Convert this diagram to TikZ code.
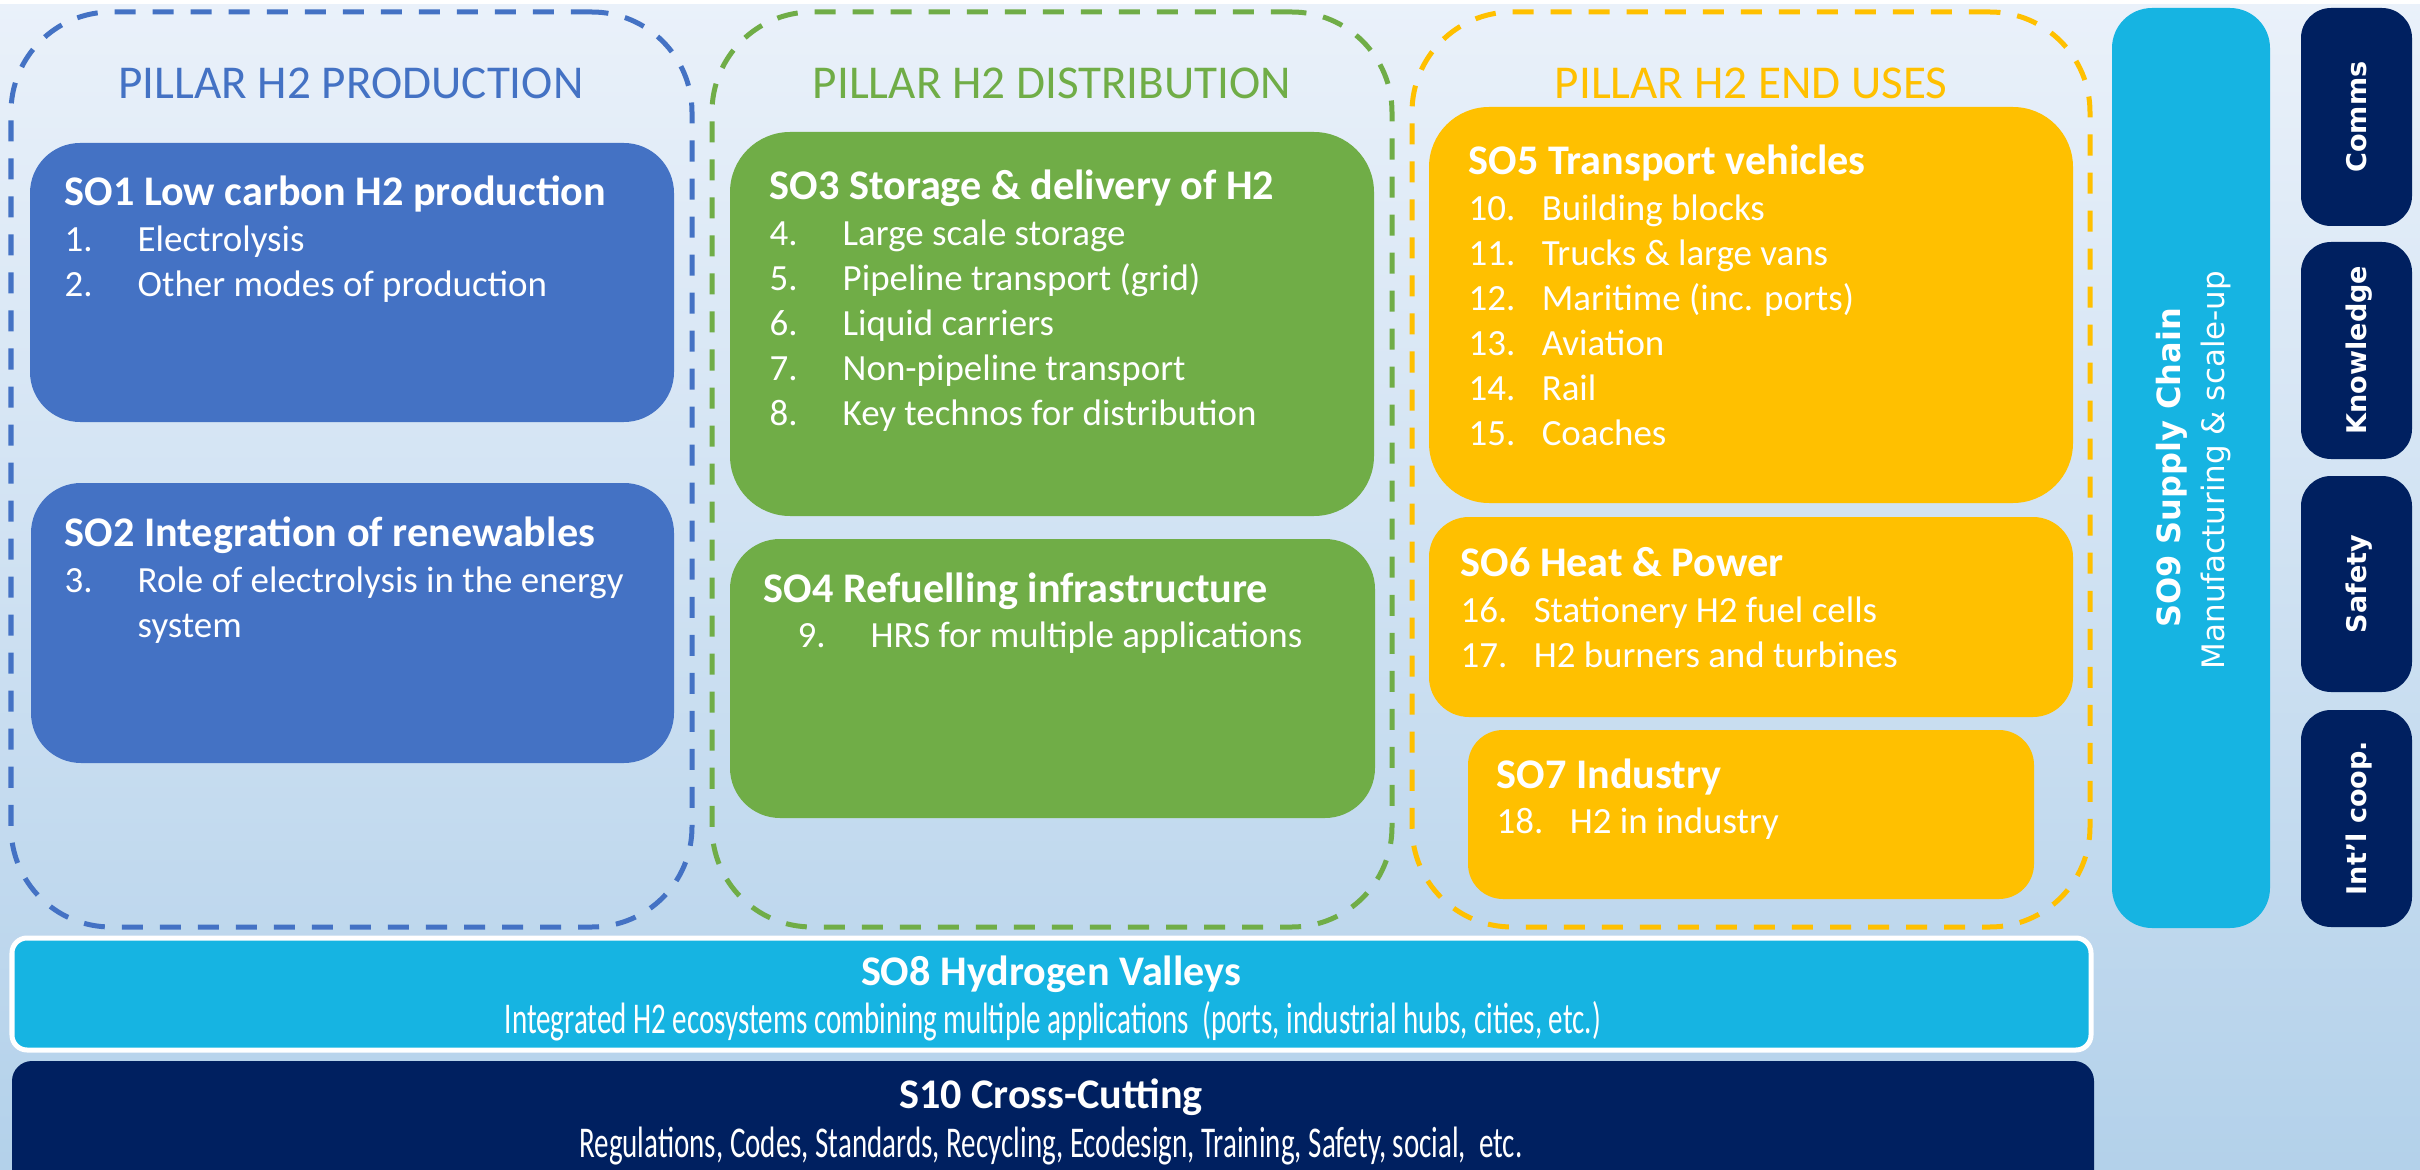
\documentclass[tikz,border=0pt]{standalone}
\usepackage{fontspec}
\setmainfont{Carlito}
\newfontfamily\verdana{DejaVu Sans}
\newfontfamily\agency[FakeStretch=0.66]{Carlito}
\usetikzlibrary{fit}

\definecolor{pblue}{HTML}{4472C4}
\definecolor{pgreen}{HTML}{70AD47}
\definecolor{pgold}{HTML}{FFC000}
\definecolor{sky}{HTML}{16B4E2}
\definecolor{navy}{HTML}{002060}
\definecolor{bgtop}{HTML}{EAF1FA}
\definecolor{bgbot}{HTML}{B3D1EA}

\newcommand{\sohead}[1]{{\bfseries\fontsize{12}{12.8}\selectfont #1}}
\newcommand{\sonum}[2]{\makebox[7.3mm][l]{#1}#2}

\tikzset{
  pillar/.style={draw, line width=0.5mm, dash pattern=on 2.1mm off 1.7mm, rounded corners=10mm, inner sep=0pt},
  pillartitle/.style={anchor=base, font=\fontsize{13.4}{16}\selectfont},
  sobox/.style={fill=#1, inner sep=0pt, rounded corners=5mm},
  sotext/.style={anchor=base west, text=white, inner sep=0pt, font=\fontsize{10.5}{12.8}\selectfont},
  sidebox/.style={fill=navy, inner sep=0pt, rounded corners=3mm},
  sidelabel/.style={rotate=90, anchor=base, text=white, inner sep=0pt, font=\verdana\bfseries\fontsize{7.7}{9}\selectfont},
  bartitle/.style={anchor=base, text=white, inner sep=0pt, font=\bfseries\fontsize{12}{14}\selectfont},
  barnote/.style={anchor=base, text=white, inner sep=0pt, font=\agency\fontsize{12.5}{14}\selectfont},
}

\begin{document}
\begin{tikzpicture}[x=0.01cm, y=-0.01cm]
% page and backdrop
\useasboundingbox (0,0) rectangle (2420,1170);
\clip (0,0) rectangle (2420,1170);
\shade[top color=bgtop, bottom color=bgbot] (0,0) rectangle (2420,1170);
\fill[white] (0,0) rectangle (2420,4);

% the three pillars
\node[pillar, draw=pblue, fit={(11,12) (692,927)}] (prod) {};
\node[pillar, draw=pgreen, fit={(712,12) (1392,927)}] (dist) {};
\node[pillar, draw=pgold, fit={(1412,12) (2090,927)}] (enduse) {};
\node[pillartitle, text=pblue] (prodt) at (351,99) {PILLAR H2 PRODUCTION};
\node[pillartitle, text=pgreen] (distt) at (1052,99) {PILLAR H2 DISTRIBUTION};
\node[pillartitle, text=pgold] (enduset) at (1751,99) {PILLAR H2 END USES};

% production
\node[sobox=pblue, fit={(30,143) (674,422)}] (so1) {};
\node[sotext] (so1t) at (64,206) {\begin{tabular}[t]{@{}l@{}}
  \sohead{SO1 Low carbon H2 production}\\
  \sonum{1.}{Electrolysis}\\
  \sonum{2.}{Other modes of production}
\end{tabular}};
\node[sobox=pblue, fit={(31,483) (674,763)}] (so2) {};
\node[sotext] (so2t) at (64,547) {\begin{tabular}[t]{@{}l@{}}
  \sohead{SO2 Integration of renewables}\\
  \sonum{3.}{Role of electrolysis in the energy}\\
  \sonum{}{system}
\end{tabular}};

% distribution
\node[sobox=pgreen, rounded corners=6mm, fit={(730,132) (1374,516)}] (so3) {};
\node[sotext] (so3t) at (769,200) {\begin{tabular}[t]{@{}l@{}}
  \sohead{SO3 Storage \& delivery of H2}\\
  \sonum{4.}{Large scale storage}\\
  \sonum{5.}{Pipeline transport (grid)}\\
  \sonum{6.}{Liquid carriers}\\
  \sonum{7.}{Non-pipeline transport}\\
  \sonum{8.}{Key technos for distribution}
\end{tabular}};
\node[sobox=pgreen, fit={(730,539) (1375,818)}] (so4) {};
\node[sotext] (so4t) at (763,602) {\begin{tabular}[t]{@{}l@{}}
  \sohead{SO4 Refuelling infrastructure}\\
  \hspace*{3.4mm}\sonum{9.}{HRS for multiple applications}
\end{tabular}};

% end uses
\node[sobox=pgold, rounded corners=6mm, fit={(1429,107) (2073,503)}] (so5) {};
\node[sotext] (so5t) at (1468,175) {\begin{tabular}[t]{@{}l@{}}
  \sohead{SO5 Transport vehicles}\\
  \sonum{10.}{Building blocks}\\
  \sonum{11.}{Trucks \& large vans}\\
  \sonum{12.}{Maritime (inc. ports)}\\
  \sonum{13.}{Aviation}\\
  \sonum{14.}{Rail}\\
  \sonum{15.}{Coaches}
\end{tabular}};
\node[sobox=pgold, rounded corners=4mm, fit={(1429,517) (2073,717)}] (so6) {};
\node[sotext] (so6t) at (1460,577) {\begin{tabular}[t]{@{}l@{}}
  \sohead{SO6 Heat \& Power}\\
  \sonum{16.}{Stationery H2 fuel cells}\\
  \sonum{17.}{H2 burners and turbines}
\end{tabular}};
\node[sobox=pgold, rounded corners=3.5mm, fit={(1468,730) (2034,899)}] (so7) {};
\node[sotext] (so7t) at (1496,788) {\begin{tabular}[t]{@{}l@{}}
  \sohead{SO7 Industry}\\
  \sonum{18.}{H2 in industry}
\end{tabular}};

% supply chain column
\node[sobox=sky, rounded corners=4mm, fit={(2112,8) (2270,928)}] (so9) {};
\node[rotate=90, anchor=base, text=white, inner sep=0pt, font=\verdana\bfseries\fontsize{9.1}{11}\selectfont] (so9t) at (2180,468) {SO9 Supply Chain};
\node[rotate=90, anchor=base, text=white, inner sep=0pt, font=\verdana\fontsize{8.8}{11}\selectfont] (so9s) at (2224,470) {Manufacturing \& scale-up};

% side tabs
\node[sidebox, fit={(2301,8) (2412,226)}] (comms) {};
\node[sidebox, fit={(2301,242) (2412,459)}] (know) {};
\node[sidebox, fit={(2301,476) (2412,692)}] (safety) {};
\node[sidebox, fit={(2301,710) (2412,927)}] (intl) {};
\node[sidelabel] (commst) at (2366,117) {Comms};
\node[sidelabel] (knowt) at (2366,350) {Knowledge};
\node[sidelabel] (safetyt) at (2366,584) {Safety};
\node[sidelabel] (intlt) at (2366,818) {Int’l coop.};

% bottom bars
\node[sobox=sky, draw=white, line width=0.5mm, rounded corners=1.5mm, fit={(12,938) (2091,1050)}] (so8) {};
\node[bartitle] (so8t) at (1051,985) {SO8 Hydrogen Valleys};
\node[barnote] (so8s) at (1053,1033) {Integrated H2 ecosystems combining multiple applications\ \ (ports, industrial hubs, cities, etc.)};
\node[sobox=navy, rounded corners=2mm, fit={(12,1061) (2094,1200)}] (s10) {};
\node[bartitle] (s10t) at (1051,1108) {S10 Cross-Cutting};
\node[barnote] (s10s) at (1051,1157) {Regulations, Codes, Standards, Recycling, Ecodesign, Training, Safety, social,\ \ etc.};
\end{tikzpicture}
\end{document}
